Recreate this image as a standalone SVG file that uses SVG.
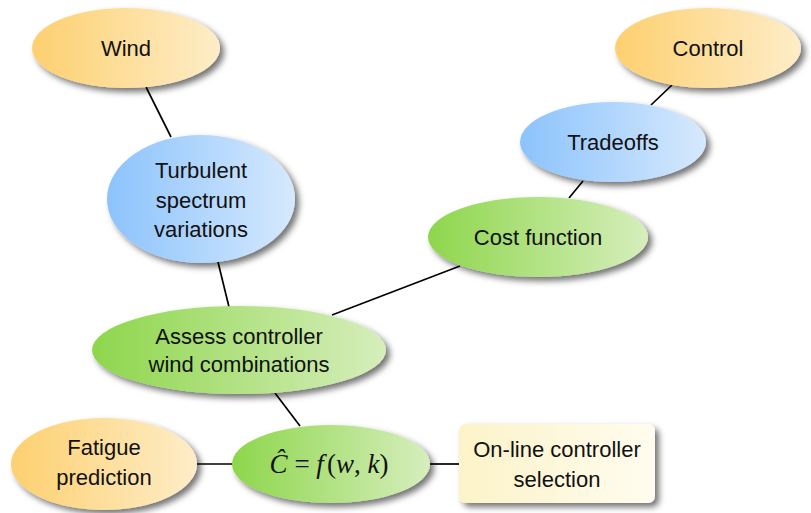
<svg xmlns="http://www.w3.org/2000/svg" width="811" height="513" viewBox="0 0 811 513">
<defs>
<linearGradient id="gO" x1="0" y1="0" x2="1" y2="0"><stop offset="0" stop-color="#fdd070"/><stop offset="1" stop-color="#feedc8"/></linearGradient>
<linearGradient id="gB" x1="0" y1="0" x2="1" y2="0"><stop offset="0" stop-color="#8cc3fc"/><stop offset="1" stop-color="#d6e9fd"/></linearGradient>
<linearGradient id="gG" x1="0" y1="0" x2="1" y2="0"><stop offset="0" stop-color="#8ed64c"/><stop offset="1" stop-color="#d6eebc"/></linearGradient>
<linearGradient id="gY" x1="0" y1="0" x2="1" y2="0"><stop offset="0" stop-color="#fcf3c8"/><stop offset="1" stop-color="#fffcef"/></linearGradient>
<filter id="sh" x="-20%" y="-20%" width="150%" height="160%"><feDropShadow dx="4" dy="4" stdDeviation="3" flood-color="#000" flood-opacity="0.55"/></filter>
</defs>
<style>
.n{filter:url(#sh)}
.t{font-family:"Liberation Sans",Arial,sans-serif;font-size:22px;fill:#111;text-anchor:middle}
.m{font-family:"Liberation Serif","Times New Roman",serif;font-size:27px;fill:#111;text-anchor:middle}
.c line{stroke:#000;stroke-width:1.7}
</style>
<g class="c" id="connectors">
<line x1="146" y1="87" x2="171" y2="137"/>
<line x1="218" y1="262" x2="229" y2="307"/>
<line x1="672" y1="85" x2="651" y2="105"/>
<line x1="583" y1="181" x2="569" y2="198"/>
<line x1="460" y1="266" x2="332" y2="315"/>
<line x1="275" y1="393" x2="300" y2="426"/>
<line x1="196" y1="464" x2="233" y2="464"/>
<line x1="429" y1="464" x2="460" y2="464"/>
</g>
<g id="wind"><ellipse class="n" cx="126" cy="48" rx="94" ry="40" fill="url(#gO)"/><text class="t" x="126" y="56">Wind</text></g>
<g id="turbulent"><ellipse class="n" cx="201" cy="199" rx="94" ry="64" fill="url(#gB)"/><text class="t" x="201" y="178">Turbulent</text><text class="t" x="201" y="208">spectrum</text><text class="t" x="201" y="237">variations</text></g>
<g id="control"><ellipse class="n" cx="708" cy="48" rx="93" ry="40" fill="url(#gO)"/><text class="t" x="708" y="56">Control</text></g>
<g id="tradeoffs"><ellipse class="n" cx="613" cy="142" rx="93" ry="40" fill="url(#gB)"/><text class="t" x="613" y="150">Tradeoffs</text></g>
<g id="cost"><ellipse class="n" cx="538" cy="237" rx="110" ry="40" fill="url(#gG)"/><text class="t" x="538" y="245">Cost function</text></g>
<g id="assess"><ellipse class="n" cx="239" cy="350" rx="147" ry="44" fill="url(#gG)"/><text class="t" x="239" y="344">Assess controller</text><text class="t" x="239" y="372">wind combinations</text></g>
<g id="fatigue"><ellipse class="n" cx="104" cy="464" rx="93" ry="46" fill="url(#gO)"/><text class="t" x="104" y="455">Fatigue</text><text class="t" x="104" y="485">prediction</text></g>
<g id="chat"><ellipse class="n" cx="331" cy="464" rx="99" ry="39" fill="url(#gG)"/><text class="m" x="329" y="473"><tspan font-style="italic">Ĉ</tspan> = <tspan font-style="italic">f</tspan><tspan dx="3">(</tspan><tspan font-style="italic">w</tspan>, <tspan font-style="italic">k</tspan>)</text></g>
<g id="online"><rect class="n" x="459" y="424" width="196" height="79" rx="7" fill="url(#gY)"/><text class="t" x="557" y="457">On-line controller</text><text class="t" x="557" y="487">selection</text></g>
</svg>
